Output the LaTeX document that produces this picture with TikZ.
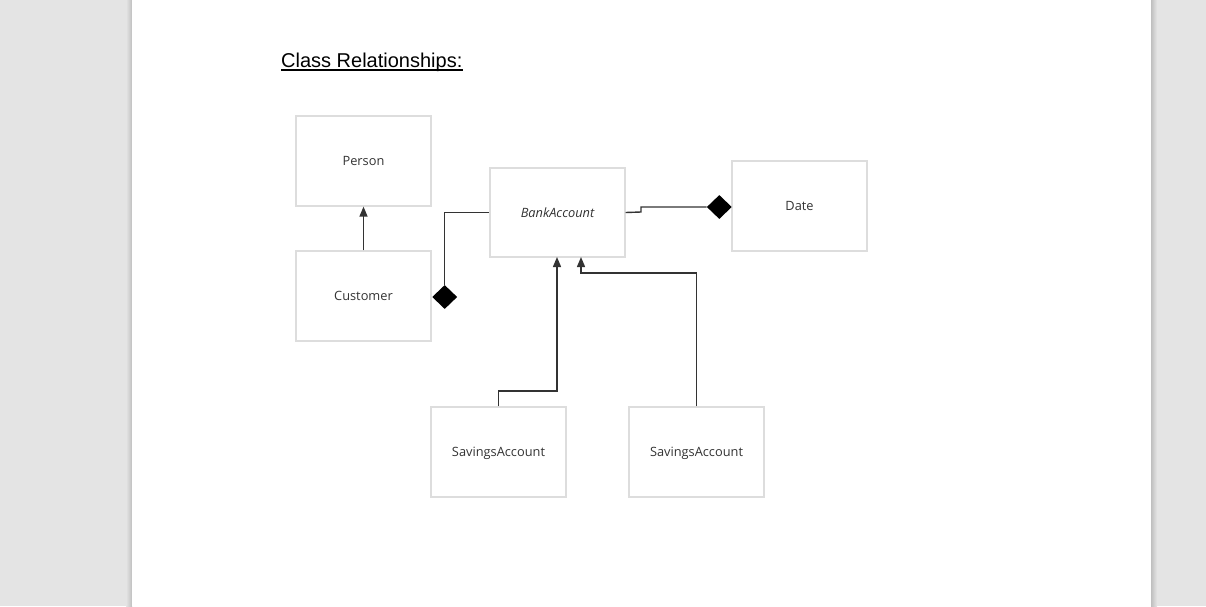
\documentclass[tikz,border=0pt]{standalone}
\usepackage{fontspec}
\setmainfont{Liberation Sans}
\newfontfamily\uifont{Open Sans}
\usetikzlibrary{arrows.meta,shapes.geometric}
\definecolor{bgray}{HTML}{E4E4E4}
\definecolor{boxline}{HTML}{DDDDDD}
\definecolor{conn}{HTML}{333333}
\definecolor{lbl}{HTML}{333333}
\tikzset{
  classbox/.style={draw=boxline, line width=1.2pt, fill=white, minimum width=135pt, minimum height=90pt, inner sep=0pt, text height=9pt, text depth=0pt, font=\uifont\fontsize{12.8}{14}\selectfont, text=lbl},
  link/.style={draw=conn, line width=1.4pt},
  inherit/.style={link, -{Triangle[width=8pt,length=10pt]}},
  compdiamond/.style={diamond, fill=black, draw=none, minimum width=25pt, minimum height=24pt, inner sep=0pt}
}
\begin{document}
\begin{tikzpicture}[x=1pt,y=-1pt]
\useasboundingbox (0,0) rectangle (1206,606);
\fill[bgray] (0,0) rectangle (1206,606);
\shade[left color=bgray, right color=black!25] (126,0) rectangle (132,606);
\shade[left color=black!25, right color=bgray] (1151,0) rectangle (1157,606);
\fill[white] (132,0) rectangle (1151,606);

\node[anchor=base west, inner sep=0pt, font=\fontsize{20}{24}\selectfont] (title) at (281,67) {Class Relationships:};
\draw[line width=1.4pt, black] ([yshift=-3pt]title.base west) -- ([yshift=-3pt]title.base east);

\node[classbox] (person) at (363.5,161) {Person};
\node[classbox] (customer) at (363.5,296) {Customer};
\node[classbox, minimum height=89pt] (bank) at (557.5,212.5) {\itshape BankAccount};
\node[classbox] (date) at (799.5,206) {Date};
\node[classbox] (sav1) at (498.5,452) {SavingsAccount};
\node[classbox] (sav2) at (696.5,452) {SavingsAccount};

\node[compdiamond, anchor=west] (d1) at (432,297) {};
\node[compdiamond, anchor=east] (d2) at (732,207) {};

\draw[inherit] (customer.north) -- (person.south);
\draw[link] (d1.north) |- (bank.west);
\coordinate (j1) at (641,212);
\draw[link] (bank.east) -- (j1) |- (d2.west);
\coordinate (s1) at (498.5,391);
\coordinate (b1) at (557,257);
\draw[inherit] (sav1.north) -- (s1) -| (b1);
\coordinate (s2) at (696.5,273);
\coordinate (b2) at (581,257);
\draw[inherit] (sav2.north) -- (s2) -| (b2);
\end{tikzpicture}
\end{document}
